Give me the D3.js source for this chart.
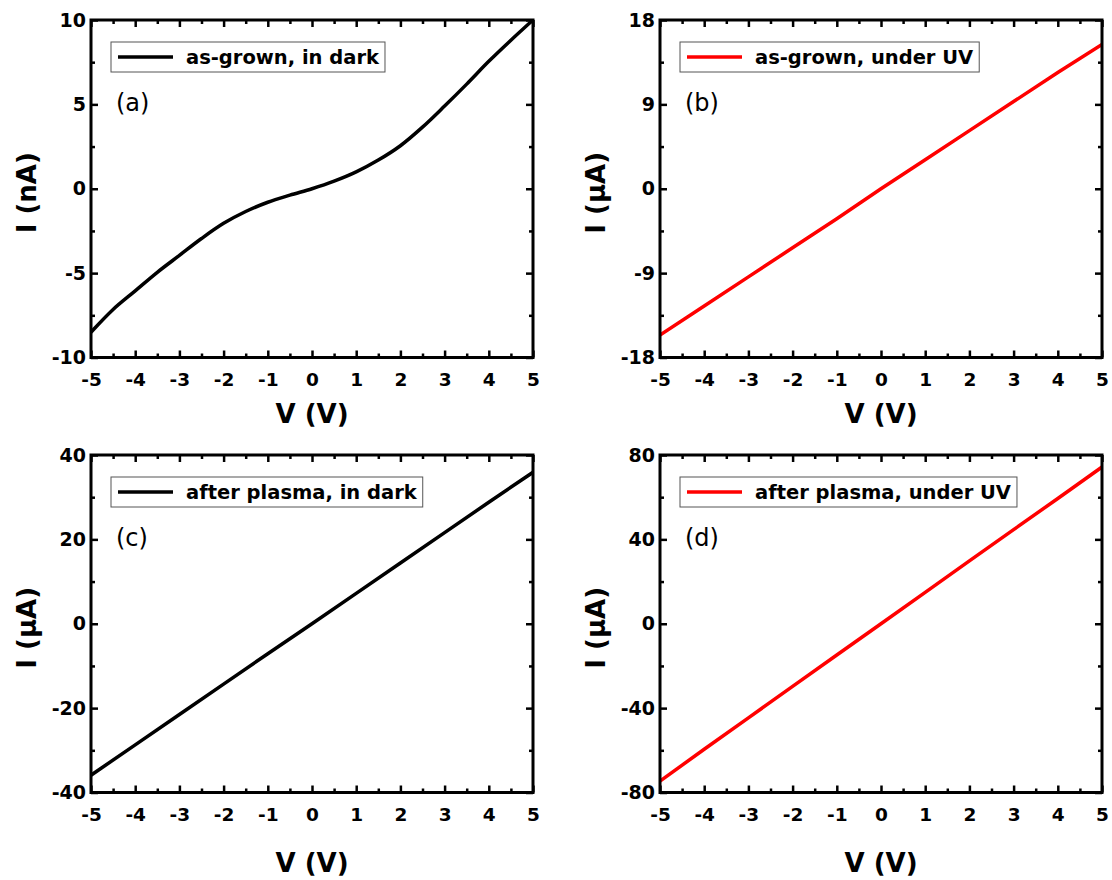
<!DOCTYPE html>
<html>
<head>
<meta charset="utf-8">
<script src="https://cdn.jsdelivr.net/npm/d3@7/dist/d3.min.js"></script>
<style>
  body { margin: 0; background: #fff; }
  svg text { fill: #000; }
</style>
</head>
<body>
<div id="chart"></div>
<script>
// I-V data
const voltsA = [-5, -4.5, -4, -3.5, -3, -2.5, -2, -1.5, -1, -0.5, 0, 0.5, 1, 1.5, 2, 2.5, 3, 3.5, 4, 4.5, 5];
const currentA = [-8.5, -7.15, -6.05, -4.95, -3.95, -2.95, -2.05, -1.35, -0.8, -0.38, 0, 0.45, 1.0, 1.7, 2.55, 3.65, 4.9, 6.2, 7.55, 8.8, 10.0];
const volts = [-5, -4, -3, -2, -1, 0, 1, 2, 3, 4, 5];
const currentB = [-15.6, -12.5, -9.4, -6.3, -3.2, 0, 3.1, 6.2, 9.3, 12.4, 15.4];
const currentC = [-35.9, -28.7, -21.5, -14.3, -7.1, 0, 7.2, 14.4, 21.6, 28.8, 35.9];
const currentD = [-74.6, -59.5, -44.6, -29.7, -14.8, 0, 14.9, 29.8, 44.6, 59.4, 74.3];

// tick labels
const xTicks = [-5, -4, -3, -2, -1, 0, 1, 2, 3, 4, 5];
const yTicksA = [-10, -5, 0, 5, 10];
const yTicksB = [-18, -9, 0, 9, 18];
const yTicksC = [-40, -20, 0, 20, 40];
const yTicksD = [-80, -40, 0, 40, 80];

const legendNames = ["as-grown, in dark", "as-grown, under UV", "after plasma, in dark", "after plasma, under UV"];
const panelTags = ["(a)", "(b)", "(c)", "(d)"];
const yTitles = ["I (nA)", "I (\u03bcA)", "I (\u03bcA)", "I (\u03bcA)"];
const lineColors = ["#000", "#f00", "#000", "#f00"];

const width = 1112, height = 880;
const colX = [91, 660], rowY = [20, 455];
const plotW = 442, plotH = 337.5;
const titleOffset = [65, 79];
const fontFam = "'DejaVu Sans', sans-serif";

const panels = [
    { xs: voltsA, ys: currentA, yTicks: yTicksA, col: 0, row: 0, smooth: true },
    { xs: volts, ys: currentB, yTicks: yTicksB, col: 1, row: 0 },
    { xs: volts, ys: currentC, yTicks: yTicksC, col: 0, row: 1 },
    { xs: volts, ys: currentD, yTicks: yTicksD, col: 1, row: 1 },
];

// plain hyphen for negatives, like the original
const fmt = d => String(d);

const svg = d3.select("#chart")
    .append("svg")
    .attr("width", width)
    .attr("height", height)
    .style("font-family", fontFam);

panels.forEach((p, i) => {
    const left = colX[p.col], top = rowY[p.row];
    const g = svg.append("g").attr("transform", `translate(${left},${top})`);

    const x = d3.scaleLinear().domain([-5, 5]).range([0, plotW]);
    const yExt = d3.extent(p.yTicks);
    const y = d3.scaleLinear().domain(yExt).range([plotH, 0]);

    // minor ticks sit halfway between the labelled ones
    const xMinor = d3.range(-4.5, 5, 1);
    const yStep = p.yTicks[1] - p.yTicks[0];
    const yMinor = p.yTicks.slice(0, -1).map(t => t + yStep / 2);

    const styleAxis = sel => {
        sel.select(".domain").remove();
        sel.attr("font-family", null);
        sel.selectAll(".tick line").attr("stroke", "#000").attr("stroke-width", 2.5);
    };

    // labelled bottom and left axes, ticks pointing in
    g.append("g")
        .attr("transform", `translate(0,${plotH})`)
        .call(d3.axisBottom(x).tickValues(xTicks).tickSize(-7).tickPadding(15).tickFormat(fmt))
        .call(styleAxis)
        .selectAll("text")
        .style("font-family", fontFam)
        .style("font-size", "18.5px")
        .style("font-weight", "bold");

    g.append("g")
        .call(d3.axisLeft(y).tickValues(p.yTicks).tickSize(-7).tickPadding(5).tickFormat(fmt))
        .call(styleAxis)
        .selectAll("text")
        .style("font-family", fontFam)
        .style("font-size", "19px")
        .style("font-weight", "bold");

    // mirrored top and right axes, no labels
    g.append("g")
        .call(d3.axisTop(x).tickValues(xTicks).tickSize(-7).tickFormat(""))
        .call(styleAxis);
    g.append("g")
        .attr("transform", `translate(${plotW},0)`)
        .call(d3.axisRight(y).tickValues(p.yTicks).tickSize(-7).tickFormat(""))
        .call(styleAxis);

    // minor ticks on all four sides
    g.append("g").attr("transform", `translate(0,${plotH})`)
        .call(d3.axisBottom(x).tickValues(xMinor).tickSize(-4).tickFormat("")).call(styleAxis);
    g.append("g")
        .call(d3.axisTop(x).tickValues(xMinor).tickSize(-4).tickFormat("")).call(styleAxis);
    g.append("g")
        .call(d3.axisLeft(y).tickValues(yMinor).tickSize(-4).tickFormat("")).call(styleAxis);
    g.append("g").attr("transform", `translate(${plotW},0)`)
        .call(d3.axisRight(y).tickValues(yMinor).tickSize(-4).tickFormat("")).call(styleAxis);

    // data curve
    const clipId = `clip${i}`;
    g.append("clipPath").attr("id", clipId)
        .append("rect").attr("width", plotW).attr("height", plotH);

    const line = d3.line()
        .x((d, k) => x(p.xs[k]))
        .y(d => y(d))
        .curve(p.smooth ? d3.curveCatmullRom.alpha(0.5) : d3.curveLinear);

    g.append("path")
        .datum(p.ys)
        .attr("clip-path", `url(#${clipId})`)
        .attr("fill", "none")
        .attr("stroke", lineColors[i])
        .attr("stroke-width", 3.5)
        .attr("d", line);

    // frame
    g.append("rect")
        .attr("width", plotW)
        .attr("height", plotH)
        .attr("fill", "none")
        .attr("stroke", "#000")
        .attr("stroke-width", 3);

    // legend box
    const lg = g.append("g").attr("transform", "translate(20,22)");
    const box = lg.append("rect")
        .attr("height", 30)
        .attr("fill", "#fff")
        .attr("stroke", "#555")
        .attr("stroke-width", 1);
    lg.append("line")
        .attr("x1", 7).attr("x2", 62)
        .attr("y1", 15).attr("y2", 15)
        .attr("stroke", lineColors[i])
        .attr("stroke-width", 3.5);
    const lt = lg.append("text")
        .attr("x", 75)
        .attr("y", 22)
        .style("font-size", "19.5px")
        .style("font-weight", "bold")
        .text(legendNames[i]);
    box.attr("width", 75 + lt.node().getComputedTextLength() + 6);

    // panel tag
    g.append("text")
        .attr("x", 25)
        .attr("y", 91)
        .style("font-size", "24px")
        .text(panelTags[i]);

    // axis titles
    g.append("text")
        .attr("x", plotW / 2)
        .attr("y", plotH + titleOffset[p.row])
        .attr("text-anchor", "middle")
        .style("font-size", "26px")
        .style("font-weight", "bold")
        .text("V (V)");

    g.append("text")
        .attr("transform", `translate(-55,${plotH / 2 + 4}) rotate(-90)`)
        .attr("text-anchor", "middle")
        .style("font-size", "26px")
        .style("font-weight", "bold")
        .text(yTitles[i]);
});
</script>
</body>
</html>
